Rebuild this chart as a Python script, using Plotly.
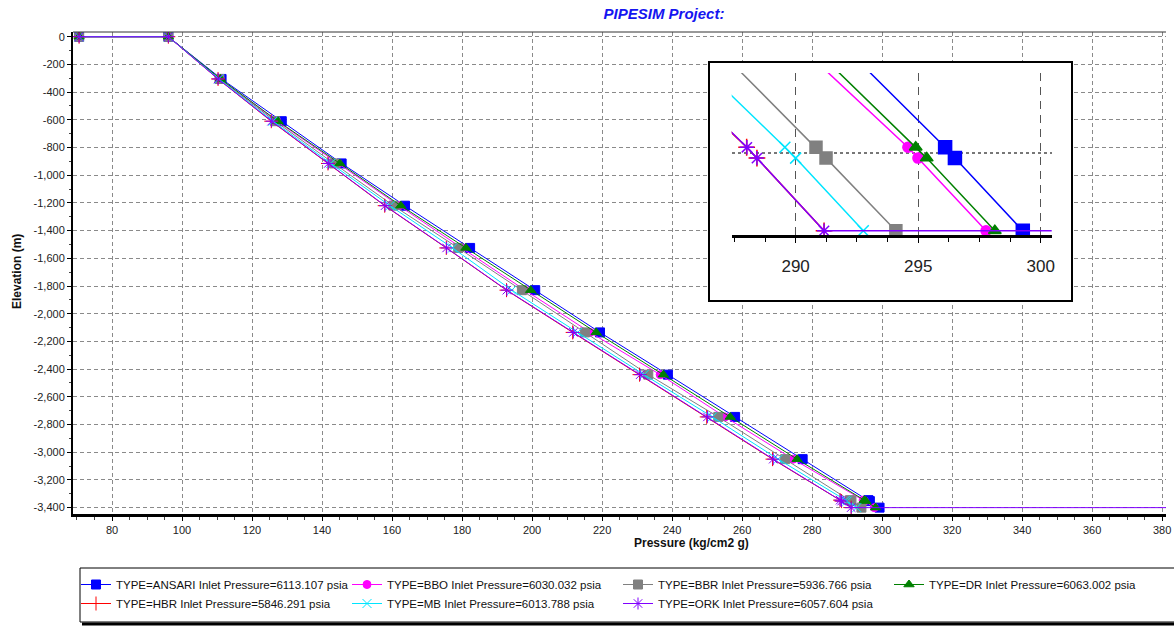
import plotly.graph_objects as go

# ---------------- data ----------------
elevation = [0, 0, -305, -610, -915, -1220, -1525, -1830, -2135, -2440, -2745, -3050, -3346, -3353, -3400]

ansari = [70.6, 96.1, 111.3, 128.5, 145.6, 163.7, 182.3, 200.9, 219.4, 238.8, 258.0, 277.3, 296.1, 296.5, 299.27]
bbo    = [70.6, 96.1, 110.9, 127.1, 144.6, 162.0, 179.9, 198.0, 216.6, 236.6, 255.1, 274.6, 294.58, 294.99, 297.77]
bbr    = [70.6, 96.1, 110.7, 126.6, 143.4, 160.4, 178.9, 197.1, 215.1, 233.2, 253.2, 272.3, 290.83, 291.24, 294.09]
dr     = [70.6, 96.1, 111.0, 127.4, 145.1, 162.5, 181.1, 199.6, 218.3, 237.5, 256.6, 275.7, 294.9, 295.35, 298.13]
hbr    = [70.6, 96.1, 110.3, 125.5, 141.7, 157.9, 175.5, 192.7, 211.6, 230.7, 249.9, 268.7, 288.0, 288.42, 291.16]
mb     = [70.6, 96.1, 110.5, 126.0, 142.5, 159.4, 177.3, 194.2, 213.0, 232.0, 251.5, 270.3, 289.56, 290.0, 292.76]
ork    = [70.6, 96.1, 110.3, 125.6, 141.8, 158.0, 175.6, 192.8, 211.8, 230.9, 250.1, 268.9, 288.01, 288.42, 291.16, 400.0]
ork_elev = elevation + [-3400]

series_names = [
    "TYPE=ANSARI Inlet Pressure=6113.107 psia",
    "TYPE=BBO Inlet Pressure=6030.032 psia",
    "TYPE=BBR Inlet Pressure=5936.766 psia",
    "TYPE=DR Inlet Pressure=6063.002 psia",
    "TYPE=HBR Inlet Pressure=5846.291 psia",
    "TYPE=MB Inlet Pressure=6013.788 psia",
    "TYPE=ORK Inlet Pressure=6057.604 psia",
]

x_tickvals = list(range(80, 381, 20))
x_ticktext = [str(v) for v in x_tickvals]
y_tickvals = list(range(0, -3401, -200))
y_ticktext = ["0", "-200", "-400", "-600", "-800", "-1,000", "-1,200", "-1,400", "-1,600",
              "-1,800", "-2,000", "-2,200", "-2,400", "-2,600", "-2,800", "-3,000", "-3,200", "-3,400"]
inset_tickvals = [290, 295, 300]
inset_ticktext = ["290", "295", "300"]

# ---------------- styles ----------------
styles = [
    dict(color="#0000FF", symbol="square", size=9, isize=13),
    dict(color="#FF00FF", symbol="circle", size=8, isize=10),
    dict(color="#808080", symbol="square", size=9, isize=12),
    dict(color="#008000", symbol="triangle-up", size=9, isize=11),
    dict(color="#FF0000", symbol="cross-thin-open", size=10, isize=12),
    dict(color="#00E5FF", symbol="x-thin-open", size=9, isize=11),
    dict(color="#8000FF", symbol="asterisk-open", size=10, isize=12),
]
xs = [ansari, bbo, bbr, dr, hbr, mb, ork]
ys = [elevation] * 6 + [ork_elev]

W, H = 1174, 628
L, R, T, B = 73, 1166, 32, 514   # plot area in pixels


def px_x(px):
    return (px - L) / (R - L)


def px_y(py):
    return (B - py) / (B - T)


fig = go.Figure()

# main traces
for name, x, y, st in zip(series_names, xs, ys, styles):
    fig.add_trace(go.Scatter(
        x=x, y=y, name=name, mode="lines+markers",
        line=dict(color=st["color"], width=1),
        marker=dict(symbol=st["symbol"], size=st["size"], color=st["color"],
                    line=dict(color=st["color"], width=1)),
        xaxis="x", yaxis="y", showlegend=True,
    ))

# inset frame subplot (white box)
fig.add_trace(go.Scatter(x=[0], y=[0], mode="markers", marker=dict(opacity=0),
                         hoverinfo="skip", showlegend=False, xaxis="x2", yaxis="y2"))

# inset traces
for name, x, y, st in zip(series_names, xs, ys, styles):
    fig.add_trace(go.Scatter(
        x=x, y=y, name=name, mode="lines+markers",
        line=dict(color=st["color"], width=1.5),
        marker=dict(symbol=st["symbol"], size=st["isize"], color=st["color"],
                    line=dict(color=st["color"], width=1.5)),
        xaxis="x3", yaxis="y3", showlegend=False,
    ))

tickfont = dict(family="Arial, Liberation Sans, sans-serif", size=11, color="#222")
grid = dict(showgrid=True, gridcolor="#8a8a8a", gridwidth=1, griddash="4px,3px")

fig.update_layout(
    width=W, height=H,
    margin=dict(l=L, r=W - R, t=T, b=H - B, autoexpand=False),
    paper_bgcolor="white", plot_bgcolor="white",
    font=dict(family="Arial, Liberation Sans, sans-serif", size=11, color="#222"),
    title=dict(text="<b><i>PIPESIM Project:</i></b>", xref="container", yref="container",
               x=664 / W, y=1 - 14 / H, xanchor="center", yanchor="middle",
               font=dict(family="Arial, Liberation Sans, sans-serif", size=15, color="#1515F0")),
    xaxis=dict(domain=[0, 1], range=[68.86, 381.1], tickvals=x_tickvals, ticktext=x_ticktext,
               tickfont=tickfont, ticks="outside", ticklen=4, tickcolor="#000",
               minor=dict(dtick=5, tick0=0, ticks="outside", ticklen=3, tickcolor="#444", showgrid=False),
               showline=True, linecolor="#000", linewidth=3, zeroline=False,
               anchor="y", **grid),
    yaxis=dict(domain=[0, 1], range=[-3446, 34], tickvals=y_tickvals, ticktext=y_ticktext,
               tickfont=tickfont, ticks="outside", ticklen=4, tickcolor="#000",
               minor=dict(dtick=100, tick0=0, ticks="outside", ticklen=2, tickcolor="#444", showgrid=False),
               showline=True, linecolor="#000", linewidth=2, zeroline=False,
               anchor="x", **grid),
    # inset white frame
    xaxis2=dict(domain=[px_x(710), px_x(1071)], range=[0, 1], showgrid=False, zeroline=False,
                showticklabels=False, ticks="", showline=True, mirror=True, linecolor="#000",
                linewidth=2, anchor="y2", fixedrange=True),
    yaxis2=dict(domain=[px_y(300), px_y(63)], range=[0, 1], showgrid=False, zeroline=False,
                showticklabels=False, ticks="", showline=True, mirror=True, linecolor="#000",
                linewidth=2, anchor="x2", fixedrange=True),
    # inset zoom
    xaxis3=dict(domain=[px_x(731.7), px_x(1051.7)], range=[287.39, 300.45],
                tickvals=inset_tickvals, ticktext=inset_ticktext,
                tickfont=dict(family="Liberation Sans Narrow, Arial Narrow, Arial, sans-serif", size=17, color="#222"),
                ticks="outside", ticklen=5, tickcolor="#000", ticklabelstandoff=9,
                minor=dict(dtick=1.25, tick0=287.5, ticks="outside", ticklen=4, tickcolor="#000", showgrid=False),
                showgrid=True, gridcolor="#555", gridwidth=1, griddash="8px,6px",
                showline=True, linecolor="#000", linewidth=3, zeroline=False, anchor="y3"),
    yaxis3=dict(domain=[px_y(235), px_y(73)], range=[-3402.7, -3298],
                tickvals=[-3350], showticklabels=False, ticks="",
                showgrid=True, gridcolor="#777", gridwidth=2, griddash="3px,3px",
                showline=False, zeroline=False, anchor="x3"),
    legend=dict(orientation="h", xref="container", yref="container",
                x=76 / W, y=1 - 570 / H, xanchor="left", yanchor="top",
                entrywidth=226, entrywidthmode="pixels",
                bgcolor="rgba(0,0,0,0)", borderwidth=0,
                font=dict(family="Arial, Liberation Sans, sans-serif", size=11.5, color="#111"),
                itemwidth=30, traceorder="normal"),
    annotations=[
        dict(text="<b>Pressure (kg/cm2 g)</b>", xref="paper", yref="paper",
             x=px_x(691), y=px_y(543), showarrow=False, xanchor="center", yanchor="middle",
             font=dict(family="Arial, Liberation Sans, sans-serif", size=12, color="#111")),
        dict(text="<b>Elevation (m)</b>", xref="paper", yref="paper", textangle=-90,
             x=px_x(17), y=px_y(272), showarrow=False, xanchor="center", yanchor="middle",
             font=dict(family="Arial, Liberation Sans, sans-serif", size=12, color="#111")),
    ],
    shapes=[
        # top border of the main plot
        dict(type="line", xref="paper", yref="paper", x0=0, x1=1, y0=1, y1=1,
             line=dict(color="#333", width=1)),
        # legend box
        dict(type="rect", xref="paper", yref="paper", x0=px_x(80), x1=px_x(1180),
             y0=px_y(622), y1=px_y(568), line=dict(color="#000", width=1), layer="below"),
        # legend shadow
        dict(type="line", xref="paper", yref="paper", x0=px_x(82), x1=px_x(1180), y0=px_y(624), y1=px_y(624),
             line=dict(color="#000", width=3)),
    ],
)

fig.write_html("out.html", config={"displayModeBar": False},
               post_script="document.body.style.margin='0px';")
